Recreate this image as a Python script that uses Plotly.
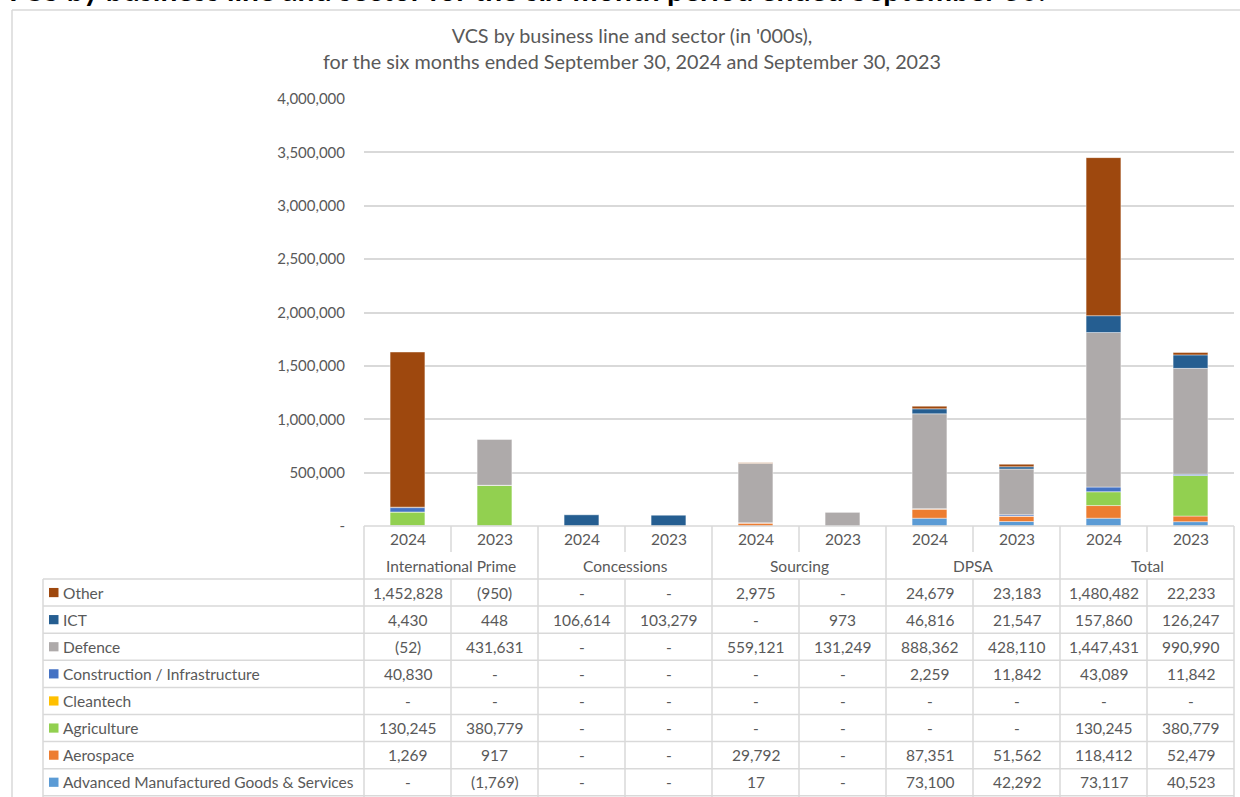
import plotly.graph_objects as go

# ---------------- data ----------------
groups = ["International Prime", "Concessions", "Sourcing", "DPSA", "Total"]
years = ["2024", "2023"]
columns = [f"{g} {y}" for g in groups for y in years]

# sectors listed bottom-of-stack first
sectors = ["Advanced Manufactured Goods & Services", "Aerospace", "Agriculture", "Cleantech",
           "Construction / Infrastructure", "Defence", "ICT", "Other"]
sector_colors = ["#5B9BD5", "#ED7D31", "#92D050", "#FFC000",
                 "#4472C4", "#AEAAAA", "#255E91", "#9E480E"]

# column order: IP 2024, IP 2023, Conc 2024, Conc 2023, Src 2024, Src 2023, DPSA 2024, DPSA 2023, Total 2024, Total 2023
advanced = [0, -1769, 0, 0, 17, 0, 73100, 42292, 73117, 40523]
aerospace = [1269, 917, 0, 0, 29792, 0, 87351, 51562, 118412, 52479]
agriculture = [130245, 380779, 0, 0, 0, 0, 0, 0, 130245, 380779]
cleantech = [0, 0, 0, 0, 0, 0, 0, 0, 0, 0]
construction = [40830, 0, 0, 0, 0, 0, 2259, 11842, 43089, 11842]
defence = [-52, 431631, 0, 0, 559121, 131249, 888362, 428110, 1447431, 990990]
ict = [4430, 448, 106614, 103279, 0, 973, 46816, 21547, 157860, 126247]
other = [1452828, -950, 0, 0, 2975, 0, 24679, 23183, 1480482, 22233]
series = [advanced, aerospace, agriculture, cleantech, construction, defence, ict, other]

y_ticks = [0, 500000, 1000000, 1500000, 2000000, 2500000, 3000000, 3500000, 4000000]
y_tick_labels = ["-", "500,000", "1,000,000", "1,500,000", "2,000,000",
                 "2,500,000", "3,000,000", "3,500,000", "4,000,000"]

chart_title = "VCS by business line and sector (in '000s),<br>for the six months ended September 30, 2024 and September 30, 2023"
page_heading = "VCS by business line and sector for the six-month period ended September 30:"

# ---------------- layout constants (pixels) ----------------
W, H = 1240, 797
L, R, T, B = 364, 1234, 99, 526
FONT = "Lato"
GREY_TXT = "#595959"
LINE = "#D9D9D9"

def py(p):
    return (B - p) / (B - T)

def px(p):
    return (p - L) / (R - L)

x_range = [-0.5, len(columns) - 0.5]

def xi(i):
    # category index -> paper fraction via axis range
    return (i - x_range[0]) / (x_range[1] - x_range[0])

fig = go.Figure()
for name, vals, col in zip(sectors, series, sector_colors):
    fig.add_trace(go.Bar(x=columns, y=vals, name=name, marker_color=col,
                         marker_line_width=0.6, marker_line_color="rgba(255,255,255,0.7)"))

shapes = []
ann = []

# frame of chart
shapes.append(dict(type="line", xref="paper", yref="paper", x0=px(12), x1=px(1260), y0=py(10), y1=py(10),
                   line=dict(color=LINE, width=1.5)))
shapes.append(dict(type="line", xref="paper", yref="paper", x0=px(12), x1=px(12), y0=py(10), y1=py(810),
                   line=dict(color=LINE, width=1.5)))

# table geometry
year_row_y = 539
group_row_y = 565.5
row_top = 579
row_h = 27.1
n_rows = len(sectors)
bottom = 810

# horizontal lines
shapes.append(dict(type="line", xref="paper", yref="paper", x0=0, x1=1, y0=0, y1=0,
                   line=dict(color=LINE, width=1.5)))
for k in range(n_rows + 1):
    yy = py(row_top + k * row_h)
    shapes.append(dict(type="line", xref="paper", yref="paper", x0=px(43), x1=1, y0=yy, y1=yy,
                       line=dict(color=LINE, width=1.5)))
# legend column left border
shapes.append(dict(type="line", xref="paper", yref="paper", x0=px(43), x1=px(43), y0=py(row_top), y1=py(bottom),
                   line=dict(color=LINE, width=1.5)))
# vertical lines
for i in range(len(columns) + 1):
    xx = xi(i - 0.5)
    if i % 2 == 0:
        shapes.append(dict(type="line", xref="paper", yref="paper", x0=xx, x1=xx, y0=0, y1=py(bottom),
                           line=dict(color=LINE, width=1.5)))
    else:
        shapes.append(dict(type="line", xref="paper", yref="paper", x0=xx, x1=xx, y0=0, y1=py(552),
                           line=dict(color=LINE, width=1.5)))
        shapes.append(dict(type="line", xref="paper", yref="paper", x0=xx, x1=xx, y0=py(row_top), y1=py(bottom),
                           line=dict(color=LINE, width=1.5)))

tfont = dict(family=FONT, size=15.5, color=GREY_TXT)

# year and group labels
for i, c in enumerate(columns):
    ann.append(dict(x=i, y=py(year_row_y), xref="x", yref="paper", text=years[i % 2], showarrow=False,
                    xanchor="center", yanchor="middle", font=tfont))
for g_i, g in enumerate(groups):
    ann.append(dict(x=2 * g_i + 0.5, y=py(group_row_y), xref="x", yref="paper", text=g, showarrow=False,
                    xanchor="center", yanchor="middle", font=tfont))

def fmt(v):
    if v == 0:
        return "-"
    if v < 0:
        return f"({-v:,})"
    return f"{v:,}"

# data rows: top row is last sector (Other)
for r in range(n_rows):
    s_idx = n_rows - 1 - r
    yc = py(row_top + r * row_h + row_h / 2)
    # legend swatch
    shapes.append(dict(type="rect", xref="paper", yref="paper",
                       x0=px(49), x1=px(58.5), y0=yc - 4.6 / (B - T), y1=yc + 4.6 / (B - T),
                       fillcolor=sector_colors[s_idx], line=dict(width=0)))
    ann.append(dict(x=px(61), y=yc, xref="paper", yref="paper", text=sectors[s_idx], showarrow=False,
                    xanchor="left", yanchor="middle", font=tfont))
    for i in range(len(columns)):
        ann.append(dict(x=i, y=yc, xref="x", yref="paper", text=fmt(series[s_idx][i]), showarrow=False,
                        xanchor="center", yanchor="middle", font=tfont))

# clipped page heading at very top (only its lower edge is visible, as in the reference)
ann.append(dict(x=px(0), y=py(8.5), xref="paper", yref="paper", text=f"<b>{page_heading}</b>", showarrow=False,
                xanchor="left", yanchor="bottom", font=dict(family=FONT, size=30, color="#000000")))

fig.update_layout(
    width=W, height=H,
    margin=dict(l=L, r=W - R, t=T, b=H - B, pad=0),
    barmode="relative",
    bargap=0.6,
    paper_bgcolor="white",
    plot_bgcolor="white",
    showlegend=False,
    title=dict(text=chart_title, x=632 / W, xref="container", xanchor="center",
               y=1 - 43 / H, yref="container", yanchor="top",
               font=dict(family=FONT, size=19.8, color=GREY_TXT)),
    xaxis=dict(range=x_range, showticklabels=False, showgrid=False, zeroline=False, showline=False,
               ticks=""),
    yaxis=dict(range=[0, 4000000], tickvals=y_ticks, ticktext=y_tick_labels, showgrid=True,
               gridcolor=LINE, gridwidth=1.5, zeroline=False, showline=False,
               tickfont=dict(family=FONT, size=15, color=GREY_TXT), ticklabelstandoff=18),
    shapes=shapes,
    annotations=ann,
)

fig.write_html("out.html", config={"displayModeBar": False},
               post_script="document.body.style.margin='0';document.body.style.overflow='hidden';")
